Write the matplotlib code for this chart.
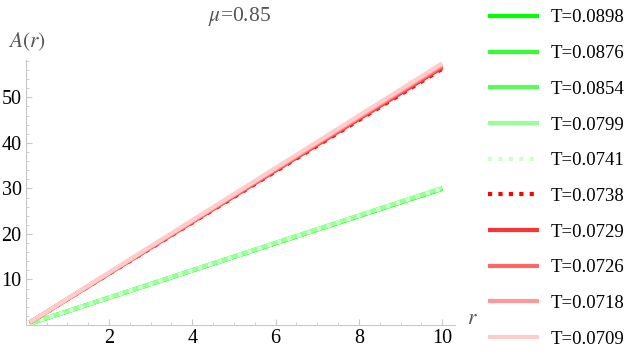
import matplotlib
matplotlib.use("Agg")
import matplotlib.pyplot as plt
from matplotlib.ticker import MultipleLocator

plt.rcParams['font.family'] = ['Liberation Serif', 'DejaVu Serif']
plt.rcParams['mathtext.fontset'] = 'stix'

# data: A(r) is a straight line for every T
temps = ['0.0898', '0.0876', '0.0854', '0.0799', '0.0741',
         '0.0738', '0.0729', '0.0726', '0.0718', '0.0709']
r_vals = [0.1, 10.0]
a_start = [0.3, 0.3, 0.3, 0.3, 0.3, 0.55, 0.56, 0.57, 0.58, 0.6]
a_end = [29.9, 30.0, 30.0, 30.1, 30.0, 56.3, 56.6, 56.9, 57.2, 57.5]
colors = ['#00ff00', '#33ff33', '#55ff55', '#99ff99', '#ccffcc',
          '#ff0000', '#ff3333', '#ff6666', '#ff9999', '#ffcccc']
dotted = ['0.0741', '0.0738']

fig = plt.figure(figsize=(6.31, 3.59), dpi=100)
ax = fig.add_axes([0.0407, 0.0947, 0.680, 0.738])

for t, a0, a1, c in zip(temps, a_start, a_end, colors):
    ls = (0, (1, 1.5)) if t in dotted else '-'
    ax.plot(r_vals, [a0, a1], color=c, lw=3, ls=ls, label='T=' + t,
            solid_capstyle='butt')

ax.set_xlim(0, 10.3)
ax.set_ylim(0, 58.2)
ax.xaxis.set_major_locator(MultipleLocator(2))
ax.xaxis.set_minor_locator(MultipleLocator(0.5))
ax.yaxis.set_major_locator(MultipleLocator(10))
ax.yaxis.set_minor_locator(MultipleLocator(2))
ax.set_xticks([2, 4, 6, 8, 10])
ax.set_yticks([10, 20, 30, 40, 50])

for s in ['top', 'right']:
    ax.spines[s].set_visible(False)
for s in ['left', 'bottom']:
    ax.spines[s].set_color('#c8c8c8')
    ax.spines[s].set_linewidth(0.8)
ax.tick_params(which='both', direction='in', color='#c8c8c8', labelsize=14.5,
               labelcolor='black', pad=3)
ax.tick_params(which='major', length=4)
ax.tick_params(which='minor', length=2)

fig.text(0.012, 0.885, '$A(r)$', fontsize=15.5, color='#555555', ha='left', va='center')
fig.text(0.748, 0.11, '$r$', fontsize=15.5, color='#555555', ha='center', va='center')
fig.text(0.38, 0.955, '$\\mu$=0.85', fontsize=15.5, color='#555555', ha='center', va='center')

fig.legend(loc='upper left', bbox_to_anchor=(0.758, 1.0), frameon=False,
           fontsize=13.5, handlelength=2.72, handletextpad=0.64,
           labelspacing=0.99, borderaxespad=0.1)

fig.savefig('out.png', dpi=100)
